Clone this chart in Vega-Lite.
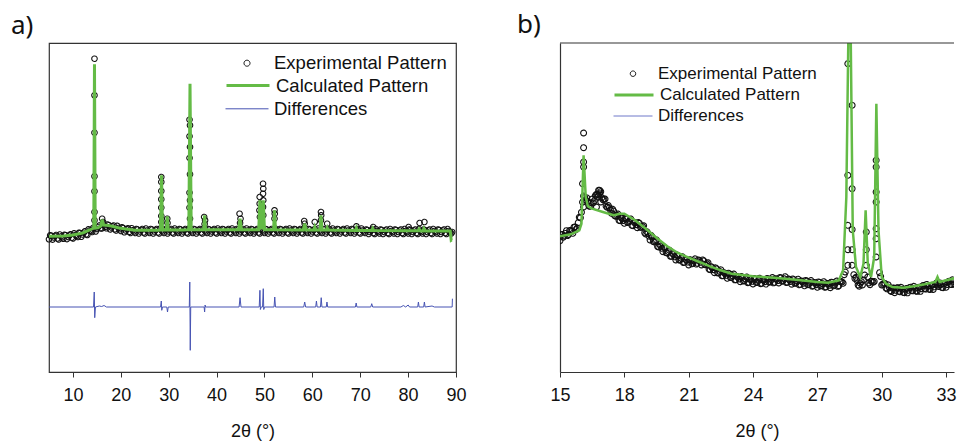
{
"$schema": "https://vega.github.io/schema/vega-lite/v6.json",
"padding": {"left": 10, "top": 12, "right": 0, "bottom": 0},
"spacing": 104,
"bounds": "flush",
"config": {"view": {"stroke": null}, "axis": {"grid": false, "labelOverlap": false}, "font": "Liberation Sans"},
"resolve": {"scale": {"color": "independent", "stroke": "independent", "strokeDash": "independent"}, "legend": {"color": "independent", "stroke": "independent", "strokeDash": "independent"}},
"datasets": {
"a_exp": [
{"x":5,"y":132.7},{"x":5.5,"y":136.3},{"x":6,"y":134.5},{"x":6.5,"y":137},{"x":7,"y":132.5},{"x":7.5,"y":135.6},{"x":8,"y":133.2},{"x":8.5,"y":136.8},{"x":9,"y":135},{"x":9.5,"y":137.7},{"x":10,"y":133.5},{"x":10.5,"y":137},{"x":11,"y":135},{"x":11.5,"y":139},{"x":12,"y":137.5},{"x":12.5,"y":140.7},{"x":13,"y":137},{"x":13.5,"y":141.5},{"x":14,"y":140},{"x":14.5,"y":144},{"x":15,"y":143},{"x":15.5,"y":146.5},{"x":16,"y":143.5},{"x":16.5,"y":146.5},{"x":17,"y":143.7},{"x":17.5,"y":146.8},{"x":18,"y":144.5},{"x":18.5,"y":146.5},{"x":19,"y":141.5},{"x":19.5,"y":144},{"x":20,"y":141},{"x":20.5,"y":144},{"x":21,"y":141.5},{"x":21.5,"y":143.7},{"x":22,"y":139},{"x":22.5,"y":141.7},{"x":23,"y":139},
{"x":23.5,"y":142.5},{"x":24,"y":140.5},{"x":24.5,"y":143},{"x":25,"y":138.5},{"x":25.5,"y":141.5},{"x":26,"y":139},
{"x":26.5,"y":142.5},{"x":27,"y":140.5},{"x":27.5,"y":143},{"x":28,"y":138.5},{"x":28.5,"y":141.5},{"x":29,"y":139},
{"x":29.5,"y":142.5},{"x":30,"y":140.5},{"x":30.5,"y":143},{"x":31,"y":138.5},{"x":31.5,"y":141.5},{"x":32,"y":139},
{"x":32.5,"y":142.5},{"x":33,"y":140.5},{"x":33.5,"y":143},{"x":34,"y":138.5},{"x":34.5,"y":141.5},{"x":35,"y":139},
{"x":35.5,"y":142.5},{"x":36,"y":140.5},{"x":36.5,"y":143},{"x":37,"y":138.5},{"x":37.5,"y":141.5},{"x":38,"y":139},
{"x":38.5,"y":142.5},{"x":39,"y":140.5},{"x":39.5,"y":143},{"x":40,"y":138.5},{"x":40.5,"y":141.5},{"x":41,"y":139},
{"x":41.5,"y":142.5},{"x":42,"y":140.5},{"x":42.5,"y":143},{"x":43,"y":138.5},{"x":43.5,"y":141.5},{"x":44,"y":139},
{"x":44.5,"y":142.5},{"x":45,"y":140.5},{"x":45.5,"y":143},{"x":46,"y":138.5},{"x":46.5,"y":141.5},{"x":47,"y":139},
{"x":47.5,"y":142.5},{"x":48,"y":140.5},{"x":48.5,"y":143},{"x":49,"y":138.5},{"x":49.5,"y":141.5},{"x":50,"y":139},
{"x":50.5,"y":142.5},{"x":51,"y":140.5},{"x":51.5,"y":143},{"x":52,"y":138.5},{"x":52.5,"y":141.5},{"x":53,"y":139},
{"x":53.5,"y":142.5},{"x":54,"y":140.5},{"x":54.5,"y":143},{"x":55,"y":138.5},{"x":55.5,"y":141.5},{"x":56,"y":139},
{"x":56.5,"y":142.5},{"x":57,"y":140.5},{"x":57.5,"y":143},{"x":58,"y":138.5},{"x":58.5,"y":141.5},{"x":59,"y":139},
{"x":59.5,"y":142.5},{"x":60,"y":140.5},{"x":60.5,"y":143},{"x":61,"y":138.5},{"x":61.5,"y":141.5},{"x":62,"y":139},
{"x":62.5,"y":142.5},{"x":63,"y":140.5},{"x":63.5,"y":143},{"x":64,"y":138.5},{"x":64.5,"y":141.5},{"x":65,"y":139},
{"x":65.5,"y":142.5},{"x":66,"y":140.5},{"x":66.5,"y":143},{"x":67,"y":138.5},{"x":67.5,"y":141.5},{"x":68,"y":139},
{"x":68.5,"y":142.5},{"x":69,"y":140.5},{"x":69.5,"y":143},{"x":70,"y":138.5},{"x":70.5,"y":141.5},{"x":71,"y":139},
{"x":71.5,"y":142},{"x":72,"y":140},{"x":72.5,"y":142.5},{"x":73,"y":138},{"x":73.5,"y":141},{"x":74,"y":138.5},
{"x":74.5,"y":142},{"x":75,"y":140},{"x":75.5,"y":142.5},{"x":76,"y":138},{"x":76.5,"y":141},{"x":77,"y":138.5},
{"x":77.5,"y":142},{"x":78,"y":140},{"x":78.5,"y":142.5},{"x":79,"y":138},{"x":79.5,"y":141},{"x":80,"y":138.5},
{"x":80.5,"y":142},{"x":81,"y":140},{"x":81.5,"y":142.5},{"x":82,"y":138},{"x":82.5,"y":141},{"x":83,"y":138.5},
{"x":83.5,"y":142},{"x":84,"y":140},{"x":84.5,"y":142.5},{"x":85,"y":138},{"x":85.5,"y":141},{"x":86,"y":138.5},
{"x":86.5,"y":142},{"x":87,"y":140},{"x":87.5,"y":142.5},{"x":88,"y":138},{"x":88.5,"y":141},{"x":89,"y":138.5},
{"x":5.25,"y":136.7},{"x":5.75,"y":132.4},{"x":6.25,"y":136},{"x":6.75,"y":133.5},{"x":7.25,"y":137.5},{"x":7.75,"y":134.6},{"x":8.25,"y":137.2},{"x":8.75,"y":132.9},{"x":9.25,"y":136.6},{"x":9.75,"y":134.3},{"x":10.25,"y":138.7},{"x":10.75,"y":136.2},{"x":11.25,"y":139.2},{"x":11.75,"y":135.2},{"x":12.25,"y":139.3},{"x":12.75,"y":137.6},{"x":13.25,"y":142.7},{"x":13.75,"y":141},{"x":14.25,"y":144.3},{"x":14.75,"y":140.5},{"x":15.25,"y":145},{"x":15.75,"y":143.7},{"x":16.25,"y":148.5},{"x":16.75,"y":145.3},{"x":17.25,"y":147.5},{"x":17.75,"y":142.6},{"x":18.25,"y":145.7},{"x":18.75,"y":142.7},{"x":19.25,"y":146.2},{"x":19.75,"y":142.7},{"x":20.25,"y":144.7},{"x":20.75,"y":139.7},{"x":21.25,"y":142.8},{"x":21.75,"y":140.1},{"x":22.25,"y":143.8},{"x":22.75,"y":140.6},
{"x":23.25,"y":143},{"x":23.75,"y":138.5},{"x":24.25,"y":142},{"x":24.75,"y":139.5},{"x":25.25,"y":143.5},{"x":25.75,"y":140.5},
{"x":26.25,"y":143},{"x":26.75,"y":138.5},{"x":27.25,"y":142},{"x":27.75,"y":139.5},{"x":28.25,"y":143.5},{"x":28.75,"y":140.5},
{"x":29.25,"y":143},{"x":29.75,"y":138.5},{"x":30.25,"y":142},{"x":30.75,"y":139.5},{"x":31.25,"y":143.5},{"x":31.75,"y":140.5},
{"x":32.25,"y":143},{"x":32.75,"y":138.5},{"x":33.25,"y":142},{"x":33.75,"y":139.5},{"x":34.25,"y":143.5},{"x":34.75,"y":140.5},
{"x":35.25,"y":143},{"x":35.75,"y":138.5},{"x":36.25,"y":142},{"x":36.75,"y":139.5},{"x":37.25,"y":143.5},{"x":37.75,"y":140.5},
{"x":38.25,"y":143},{"x":38.75,"y":138.5},{"x":39.25,"y":142},{"x":39.75,"y":139.5},{"x":40.25,"y":143.5},{"x":40.75,"y":140.5},
{"x":41.25,"y":143},{"x":41.75,"y":138.5},{"x":42.25,"y":142},{"x":42.75,"y":139.5},{"x":43.25,"y":143.5},{"x":43.75,"y":140.5},
{"x":44.25,"y":143},{"x":44.75,"y":138.5},{"x":45.25,"y":142},{"x":45.75,"y":139.5},{"x":46.25,"y":143.5},{"x":46.75,"y":140.5},
{"x":47.25,"y":143},{"x":47.75,"y":138.5},{"x":48.25,"y":142},{"x":48.75,"y":139.5},{"x":49.25,"y":143.5},{"x":49.75,"y":140.5},
{"x":50.25,"y":143},{"x":50.75,"y":138.5},{"x":51.25,"y":142},{"x":51.75,"y":139.5},{"x":52.25,"y":143.5},{"x":52.75,"y":140.5},
{"x":53.25,"y":143},{"x":53.75,"y":138.5},{"x":54.25,"y":142},{"x":54.75,"y":139.5},{"x":55.25,"y":143.5},{"x":55.75,"y":140.5},
{"x":56.25,"y":143},{"x":56.75,"y":138.5},{"x":57.25,"y":142},{"x":57.75,"y":139.5},{"x":58.25,"y":143.5},{"x":58.75,"y":140.5},
{"x":59.25,"y":143},{"x":59.75,"y":138.5},{"x":60.25,"y":142},{"x":60.75,"y":139.5},{"x":61.25,"y":143.5},{"x":61.75,"y":140.5},
{"x":62.25,"y":143},{"x":62.75,"y":138.5},{"x":63.25,"y":142},{"x":63.75,"y":139.5},{"x":64.25,"y":143.5},{"x":64.75,"y":140.5},
{"x":65.25,"y":143},{"x":65.75,"y":138.5},{"x":66.25,"y":142},{"x":66.75,"y":139.5},{"x":67.25,"y":143.5},{"x":67.75,"y":140.5},
{"x":68.25,"y":143},{"x":68.75,"y":138.5},{"x":69.25,"y":142},{"x":69.75,"y":139.5},{"x":70.25,"y":143.5},{"x":70.75,"y":140.5},
{"x":71.25,"y":142.5},{"x":71.75,"y":138},{"x":72.25,"y":141.5},{"x":72.75,"y":139},{"x":73.25,"y":143},{"x":73.75,"y":140},
{"x":74.25,"y":142.5},{"x":74.75,"y":138},{"x":75.25,"y":141.5},{"x":75.75,"y":139},{"x":76.25,"y":143},{"x":76.75,"y":140},
{"x":77.25,"y":142.5},{"x":77.75,"y":138},{"x":78.25,"y":141.5},{"x":78.75,"y":139},{"x":79.25,"y":143},{"x":79.75,"y":140},
{"x":80.25,"y":142.5},{"x":80.75,"y":138},{"x":81.25,"y":141.5},{"x":81.75,"y":139},{"x":82.25,"y":143},{"x":82.75,"y":140},
{"x":83.25,"y":142.5},{"x":83.75,"y":138},{"x":84.25,"y":141.5},{"x":84.75,"y":139},{"x":85.25,"y":143},{"x":85.75,"y":140},
{"x":86.25,"y":142.5},{"x":86.75,"y":138},{"x":87.25,"y":141.5},{"x":87.75,"y":139},{"x":88.25,"y":143},{"x":88.75,"y":140},
{"x":14.5,"y":313.3},{"x":14.5,"y":276.7},{"x":14.5,"y":239.3},{"x":14.5,"y":195.7},{"x":14.5,"y":180.7},{"x":14.5,"y":160},{"x":14.5,"y":151.7},
{"x":16.1,"y":153.3},{"x":16.3,"y":150},
{"x":28.45,"y":195},{"x":28.45,"y":190},{"x":28.45,"y":181},{"x":28.45,"y":172.7},{"x":28.45,"y":164.3},{"x":28.45,"y":156},{"x":28.45,"y":150},
{"x":29.7,"y":153.3},{"x":29.75,"y":149},
{"x":34.35,"y":252.3},{"x":34.45,"y":246.7},{"x":34.35,"y":235.7},{"x":34.45,"y":225},{"x":34.35,"y":214},{"x":34.45,"y":197.7},{"x":34.35,"y":179.3},{"x":34.45,"y":171.7},{"x":34.35,"y":164.3},{"x":34.45,"y":153.3},
{"x":37.4,"y":155},{"x":37.6,"y":151.7},{"x":37.5,"y":148},
{"x":44.8,"y":158.3},{"x":45,"y":153.3},{"x":44.9,"y":149},
{"x":49,"y":175},{"x":49,"y":168.3},{"x":48.95,"y":161.7},{"x":49.05,"y":155},
{"x":49.7,"y":188.3},{"x":49.75,"y":183.3},{"x":49.7,"y":178.3},{"x":49.75,"y":171.7},{"x":49.7,"y":165},{"x":49.75,"y":156.7},
{"x":52.1,"y":161.7},{"x":52.15,"y":158.3},{"x":52.1,"y":153.3},
{"x":58.3,"y":151},{"x":58.4,"y":148.3},{"x":60.5,"y":150},
{"x":61.8,"y":160},{"x":61.85,"y":156.7},{"x":61.8,"y":151.7},{"x":63.1,"y":148.3},
{"x":69.2,"y":145.7},{"x":72.7,"y":145},{"x":80.1,"y":145},{"x":82.4,"y":149},{"x":83.4,"y":150},{"x":89.2,"y":140}
],
"a_calc": [
{"x":5,"y":135.7},{"x":8,"y":136},{"x":10,"y":137},{"x":12,"y":139},{"x":13.5,"y":142},{"x":14.35,"y":144},{"x":14.5,"y":307.7},{"x":14.65,"y":144},{"x":15.2,"y":144.3},{"x":15.8,"y":146},{"x":16.1,"y":152.3},{"x":16.4,"y":147},{"x":17,"y":146.7},{"x":18,"y":146},{"x":19.4,"y":144.3},{"x":21,"y":143},{"x":23,"y":141.7},{"x":27.8,"y":141.7},{"x":28.3,"y":142},{"x":28.5,"y":196.7},{"x":28.7,"y":142},{"x":29.5,"y":142},{"x":29.7,"y":155.7},{"x":29.9,"y":142},{"x":33,"y":142},{"x":34.2,"y":142.3},{"x":34.45,"y":288.3},{"x":34.7,"y":142.3},{"x":37.3,"y":142.3},{"x":37.5,"y":156.7},{"x":37.7,"y":142.3},{"x":44.6,"y":142.3},{"x":44.9,"y":153.3},{"x":45.2,"y":142.3},{"x":48.8,"y":142.3},{"x":49.05,"y":171.7},{"x":49.3,"y":144},{"x":49.5,"y":144},{"x":49.75,"y":171.7},{"x":50,"y":142.3},{"x":51.9,"y":142.3},{"x":52.1,"y":161.7},{"x":52.3,"y":142.3},{"x":58.1,"y":142},{"x":58.4,"y":148.3},{"x":58.7,"y":142},{"x":60.3,"y":142},{"x":60.5,"y":145},{"x":60.7,"y":142},{"x":61.6,"y":142},{"x":61.8,"y":156.7},{"x":62,"y":142},{"x":62.9,"y":142},{"x":63.1,"y":144.3},{"x":63.3,"y":142},{"x":69,"y":141.5},{"x":69.2,"y":144},{"x":69.4,"y":141.5},{"x":72.4,"y":141.5},{"x":72.6,"y":143.5},{"x":72.8,"y":141.5},{"x":80,"y":141.3},{"x":82.1,"y":141.3},{"x":82.3,"y":143},{"x":82.6,"y":141},{"x":83.1,"y":141},{"x":83.3,"y":143.5},{"x":83.6,"y":141},{"x":88.8,"y":141},{"x":89,"y":131.7},{"x":89.1,"y":132}
],
"a_diff": [
{"x":5,"y":65},{"x":14.3,"y":65},{"x":14.45,"y":80},{"x":14.55,"y":54.3},{"x":14.7,"y":65},{"x":15.5,"y":66},{"x":16,"y":65.5},{"x":16.5,"y":66.5},{"x":17,"y":65},{"x":28.3,"y":65},{"x":28.45,"y":71},{"x":28.55,"y":61.7},{"x":28.7,"y":65},{"x":29.6,"y":65},{"x":29.75,"y":60},{"x":29.9,"y":65},{"x":34.3,"y":65},{"x":34.4,"y":90},{"x":34.5,"y":21.7},{"x":34.6,"y":65},{"x":37.4,"y":65},{"x":37.5,"y":60},{"x":37.6,"y":67},{"x":37.7,"y":65},{"x":44.7,"y":65},{"x":44.9,"y":74.3},{"x":45.1,"y":65},{"x":48.9,"y":65},{"x":49.05,"y":81.7},{"x":49.15,"y":62.5},{"x":49.3,"y":65},{"x":49.6,"y":65},{"x":49.75,"y":83.3},{"x":49.85,"y":62.5},{"x":50,"y":65},{"x":52,"y":65},{"x":52.15,"y":75},{"x":52.3,"y":65},{"x":58.2,"y":65},{"x":58.4,"y":70},{"x":58.6,"y":65},{"x":60.7,"y":65},{"x":60.85,"y":71},{"x":61,"y":65},{"x":61.7,"y":65},{"x":61.85,"y":74.3},{"x":62,"y":65},{"x":62.9,"y":65},{"x":63.05,"y":70},{"x":63.2,"y":65},{"x":69,"y":65},{"x":69.15,"y":69},{"x":69.3,"y":65},{"x":72.2,"y":65},{"x":72.4,"y":68.3},{"x":72.6,"y":65},{"x":78.5,"y":65},{"x":79,"y":66.5},{"x":79.5,"y":65},{"x":80,"y":67},{"x":80.3,"y":65},{"x":82,"y":65},{"x":82.15,"y":70},{"x":82.3,"y":65},{"x":83.25,"y":65},{"x":83.4,"y":70},{"x":83.55,"y":65},{"x":85,"y":66},{"x":85.5,"y":65},{"x":89.2,"y":65},{"x":89.25,"y":73.3}
],
"b_exp": [
{"x":15,"y":131.3},{"x":15.1,"y":137.5},{"x":15.2,"y":136},{"x":15.3,"y":141.3},{"x":15.4,"y":137.5},{"x":15.5,"y":141.5},{"x":15.6,"y":138.7},{"x":15.7,"y":145},{"x":15.8,"y":144},{"x":15.9,"y":154.7},{"x":16,"y":159.7},{"x":16.1,"y":176},{"x":16.2,"y":172},{"x":16.3,"y":170.3},{"x":16.4,"y":165.7},{"x":16.5,"y":173},{"x":16.6,"y":171.3},{"x":16.7,"y":177.7},{"x":16.8,"y":177},{"x":16.9,"y":180.3},{"x":17,"y":172.3},{"x":17.1,"y":173},{"x":17.2,"y":164.7},{"x":17.3,"y":164.3},{"x":17.4,"y":158.7},{"x":17.5,"y":161},{"x":17.6,"y":155.7},{"x":17.7,"y":158},{"x":17.8,"y":151.3},{"x":17.9,"y":153.3},{"x":18,"y":148.7},{"x":18.1,"y":153},{"x":18.2,"y":150},{"x":18.3,"y":153},{"x":18.4,"y":146.3},{"x":18.5,"y":149.3},{"x":18.6,"y":144.3},{"x":18.7,"y":148.7},{"x":18.8,"y":144.7},{"x":18.9,"y":146.3},{"x":19,"y":138},{"x":19.1,"y":138.7},{"x":19.2,"y":132},{"x":19.3,"y":135},{"x":19.4,"y":130},{"x":19.5,"y":132},{"x":19.6,"y":125},{"x":19.7,"y":126},{"x":19.8,"y":120.3},{"x":19.9,"y":123.7},
{"x":20,"y":119},{"x":20.1,"y":121.8},{"x":20.2,"y":115.7},{"x":20.3,"y":117.3},{"x":20.4,"y":112},{"x":20.5,"y":116},{"x":20.6,"y":112},{"x":20.7,"y":115.3},{"x":20.8,"y":109.7},{"x":20.9,"y":111.8},{"x":21,"y":107},{"x":21.1,"y":111.8},{"x":21.2,"y":108.7},{"x":21.3,"y":113.2},{"x":21.4,"y":108.7},{"x":21.5,"y":111.3},{"x":21.6,"y":107},{"x":21.7,"y":111.2},{"x":21.8,"y":107.3},{"x":21.9,"y":109.3},{"x":22,"y":102.3},{"x":22.1,"y":104.3},{"x":22.2,"y":99.3},{"x":22.3,"y":103.2},{"x":22.4,"y":99},{"x":22.5,"y":102.2},{"x":22.6,"y":96.3},{"x":22.7,"y":98.5},{"x":22.8,"y":93.7},{"x":22.9,"y":98.2},{"x":23,"y":94.7},{"x":23.1,"y":98},{"x":23.2,"y":92.3},{"x":23.3,"y":94.8},{"x":23.4,"y":90.3},{"x":23.5,"y":94.8},{"x":23.6,"y":91.3},{"x":23.7,"y":95},{"x":23.8,"y":89.7},{"x":23.9,"y":92.3},
{"x":24,"y":88},{"x":24.1,"y":93},{"x":24.2,"y":89.8},{"x":24.3,"y":93.8},{"x":24.4,"y":88.7},{"x":24.5,"y":91.7},{"x":24.6,"y":87.9},{"x":24.7,"y":93.1},{"x":24.8,"y":90.3},{"x":24.9,"y":94.5},{"x":25,"y":89.7},{"x":25.1,"y":92.8},{"x":25.2,"y":89},{"x":25.3,"y":94.1},{"x":25.4,"y":91.2},{"x":25.5,"y":95.3},{"x":25.6,"y":89.8},{"x":25.7,"y":92.3},{"x":25.8,"y":87.8},{"x":25.9,"y":92.4},{"x":26,"y":89},{"x":26.1,"y":92.8},{"x":26.2,"y":87.6},{"x":26.3,"y":90.4},{"x":26.4,"y":86.2},{"x":26.5,"y":91},{"x":26.6,"y":87.7},{"x":26.7,"y":91.5},{"x":26.8,"y":86.2},{"x":26.9,"y":89},{"x":27,"y":84.7},{"x":27.1,"y":89.6},{"x":27.2,"y":86.4},{"x":27.3,"y":90.3},{"x":27.4,"y":85.1},{"x":27.5,"y":88},{"x":27.6,"y":84.3},{"x":27.7,"y":89.6},{"x":27.8,"y":86.8},{"x":27.9,"y":91},
{"x":28,"y":86.3},{"x":28.1,"y":90.5},{"x":28.2,"y":88.7},{"x":28.3,"y":100},{"x":28.7,"y":97.3},{"x":28.8,"y":94.7},{"x":28.9,"y":87},{"x":29,"y":88.7},{"x":29.1,"y":87},{"x":29.2,"y":97},{"x":29.4,"y":89},{"x":29.5,"y":90.7},{"x":29.6,"y":89.7},{"x":29.9,"y":99.3},
{"x":30,"y":87},{"x":30.1,"y":88.7},{"x":30.2,"y":84},{"x":30.3,"y":87.2},{"x":30.4,"y":81.3},{"x":30.5,"y":83.8},{"x":30.6,"y":79.3},{"x":30.7,"y":84},{"x":30.8,"y":80.7},{"x":30.9,"y":84.7},{"x":31,"y":79.7},{"x":31.1,"y":82.8},{"x":31.2,"y":79.1},{"x":31.3,"y":84.3},{"x":31.4,"y":81.5},{"x":31.5,"y":85.7},{"x":31.6,"y":81},{"x":31.7,"y":84.3},{"x":31.8,"y":80.6},{"x":31.9,"y":86},{"x":32,"y":83.3},{"x":32.1,"y":87.6},{"x":32.2,"y":82.9},{"x":32.3,"y":86.2},{"x":32.4,"y":82.5},{"x":32.5,"y":87.7},{"x":32.6,"y":87},{"x":32.7,"y":89.2},{"x":32.8,"y":84.6},{"x":32.9,"y":88.1},{"x":33,"y":84.7},{"x":33.1,"y":90.2},{"x":33.2,"y":87.7},{"x":33.3,"y":92.2},{"x":33.4,"y":87.6},{"x":33.5,"y":91},
{"x":15.05,"y":137.4},{"x":15.15,"y":134.7},{"x":15.25,"y":138.6},{"x":15.35,"y":136.4},{"x":15.45,"y":141.5},{"x":15.55,"y":140.6},{"x":15.65,"y":144.8},{"x":15.75,"y":142.5},{"x":15.85,"y":149.3},{"x":15.95,"y":154.2},{"x":16.05,"y":169.8},{"x":16.15,"y":174.5},{"x":16.25,"y":174.2},{"x":16.35,"y":166},{"x":16.45,"y":169.3},{"x":16.55,"y":169.2},{"x":16.65,"y":176.5},{"x":16.75,"y":177.8},{"x":16.85,"y":181.7},{"x":16.95,"y":174.3},{"x":17.05,"y":172.7},{"x":17.15,"y":165.8},{"x":17.25,"y":166.5},{"x":17.35,"y":162},{"x":17.45,"y":162.8},{"x":17.55,"y":156.3},{"x":17.65,"y":156.8},{"x":17.75,"y":151.7},{"x":17.85,"y":154.3},{"x":17.95,"y":151.5},
{"x":18.05,"y":153.8},{"x":18.15,"y":149.5},{"x":18.25,"y":151.5},{"x":18.35,"y":146.7},{"x":18.45,"y":149.8},{"x":18.55,"y":147.3},{"x":18.65,"y":149.5},{"x":18.75,"y":144.7},{"x":18.85,"y":145.5},{"x":18.95,"y":139.2},{"x":19.05,"y":140.3},{"x":19.15,"y":135.8},{"x":19.25,"y":136.5},{"x":19.35,"y":130.5},{"x":19.45,"y":131},{"x":19.55,"y":125.5},{"x":19.65,"y":127.5},{"x":19.75,"y":123.7},{"x":19.85,"y":125},{"x":19.95,"y":119.3},
{"x":20.05,"y":120.4},{"x":20.15,"y":115.7},{"x":20.25,"y":118.5},{"x":20.35,"y":115.2},{"x":20.45,"y":117},{"x":20.55,"y":112},{"x":20.65,"y":113.7},{"x":20.75,"y":109.5},{"x":20.85,"y":112.7},{"x":20.95,"y":109.9},{"x":21.05,"y":112.4},{"x":21.15,"y":108.2},{"x":21.25,"y":111},{"x":21.35,"y":107.9},{"x":21.45,"y":112},{"x":21.55,"y":109.7},{"x":21.65,"y":112.1},{"x":21.75,"y":107.3},{"x":21.85,"y":108.3},{"x":21.95,"y":102.8},
{"x":22.05,"y":105.3},{"x":22.15,"y":102.3},{"x":22.25,"y":104.2},{"x":22.35,"y":99.1},{"x":22.45,"y":100.6},{"x":22.55,"y":96.2},{"x":22.65,"y":99.4},{"x":22.75,"y":96.6},{"x":22.85,"y":98.9},{"x":22.95,"y":94.4},{"x":23.05,"y":96.3},{"x":23.15,"y":92.1},{"x":23.25,"y":95.5},{"x":23.35,"y":93},{"x":23.45,"y":95.5},{"x":23.55,"y":91},{"x":23.65,"y":93.1},{"x":23.75,"y":89.3},{"x":23.85,"y":93},{"x":23.95,"y":90.6},
{"x":24.05,"y":93.5},{"x":24.15,"y":89.4},{"x":24.25,"y":91.8},{"x":24.35,"y":88.3},{"x":24.45,"y":92.2},{"x":24.55,"y":90.3},{"x":24.65,"y":93.5},{"x":24.75,"y":89.7},{"x":24.85,"y":92.4},{"x":24.95,"y":89.1},{"x":25.05,"y":93.3},{"x":25.15,"y":91.4},{"x":25.25,"y":94.5},{"x":25.35,"y":90.7},{"x":25.45,"y":93.3},{"x":25.55,"y":89.5},{"x":25.65,"y":93},{"x":25.75,"y":90.5},{"x":25.85,"y":93.1},{"x":25.95,"y":88.7},
{"x":26.05,"y":90.9},{"x":26.15,"y":87.2},{"x":26.25,"y":91},{"x":26.35,"y":88.8},{"x":26.45,"y":91.6},{"x":26.55,"y":87.3},{"x":26.65,"y":89.6},{"x":26.75,"y":85.8},{"x":26.85,"y":89.6},{"x":26.95,"y":87.3},{"x":27.05,"y":90.1},{"x":27.15,"y":86},{"x":27.25,"y":88.3},{"x":27.35,"y":84.7},{"x":27.45,"y":88.5},{"x":27.55,"y":86.6},{"x":27.65,"y":89.9},{"x":27.75,"y":86.2},{"x":27.85,"y":88.9},{"x":27.95,"y":85.6},
{"x":28.05,"y":90.4},{"x":28.15,"y":90.1},{"x":28.25,"y":97.3},{"x":28.75,"y":93.5},{"x":28.85,"y":91.3},{"x":28.95,"y":85.8},{"x":29.05,"y":90.3},{"x":29.15,"y":92},{"x":29.35,"y":95},{"x":29.45,"y":87.3},{"x":29.55,"y":90.7},{"x":29.65,"y":90.5},{"x":29.95,"y":95.5},
{"x":30.05,"y":87.8},{"x":30.15,"y":88.5},{"x":30.25,"y":83.1},{"x":30.35,"y":84.7},{"x":30.45,"y":80.5},{"x":30.55,"y":84},{"x":30.65,"y":81.7},{"x":30.75,"y":84.3},{"x":30.85,"y":80.2},{"x":30.95,"y":82.7},{"x":31.05,"y":79.3},{"x":31.15,"y":83.5},{"x":31.25,"y":81.7},{"x":31.35,"y":84.9},{"x":31.45,"y":81.1},{"x":31.55,"y":83.8},{"x":31.65,"y":80.6},{"x":31.75,"y":84.9},{"x":31.85,"y":83.3},{"x":31.95,"y":86.6},
{"x":32.05,"y":82.9},{"x":32.15,"y":85.7},{"x":32.25,"y":82.5},{"x":32.35,"y":86.8},{"x":32.45,"y":85.1},{"x":32.55,"y":89},{"x":32.65,"y":85.5},{"x":32.75,"y":87.4},{"x":32.85,"y":84.3},{"x":32.95,"y":88.9},{"x":33.05,"y":87.4},{"x":33.15,"y":90.9},{"x":33.25,"y":87.4},{"x":33.35,"y":90.4},
{"x":16.1,"y":239},{"x":16.1,"y":224.3},{"x":16.1,"y":210},{"x":16.1,"y":205},{"x":16.1,"y":165},{"x":16.05,"y":188.3},
{"x":16.8,"y":181.7},{"x":16.85,"y":178.3},{"x":16.75,"y":175},{"x":16.9,"y":170},{"x":16.7,"y":165},
{"x":28.42,"y":308.3},{"x":28.42,"y":196.7},{"x":28.42,"y":146.7},{"x":28.42,"y":122.3},{"x":28.42,"y":106.7},
{"x":28.62,"y":266.7},{"x":28.62,"y":183.3},{"x":28.62,"y":142.5},{"x":28.62,"y":122.3},{"x":28.62,"y":106.7},
{"x":29.28,"y":140},{"x":29.28,"y":122.3},{"x":29.28,"y":106.7},
{"x":29.74,"y":211.7},{"x":29.74,"y":205},{"x":29.74,"y":180},{"x":29.74,"y":170},{"x":29.74,"y":143.3},{"x":29.74,"y":133.3},{"x":29.74,"y":115}
],
"b_calc": [
{"x":15,"y":135.7},{"x":15.5,"y":137.7},{"x":15.9,"y":141.7},{"x":16,"y":148.3},{"x":16.1,"y":216.7},{"x":16.2,"y":175},{"x":16.3,"y":165.7},{"x":16.5,"y":163.3},{"x":17,"y":160},{"x":17.5,"y":156.7},{"x":17.8,"y":158.3},{"x":18,"y":158.3},{"x":18.5,"y":151.7},{"x":19,"y":143.3},{"x":19.5,"y":134.3},{"x":20,"y":125.7},{"x":20.5,"y":119},{"x":21,"y":114.3},{"x":21.5,"y":110},{"x":22,"y":105.7},{"x":22.5,"y":101.7},{"x":23,"y":98.3},{"x":24,"y":95.7},{"x":25,"y":94.3},{"x":26,"y":92.3},{"x":27,"y":90},{"x":27.5,"y":89.3},{"x":28,"y":91.7},{"x":28.2,"y":101.7},{"x":28.35,"y":175},{"x":28.45,"y":345},{"x":28.55,"y":345},{"x":28.65,"y":141.7},{"x":28.8,"y":105},{"x":29,"y":95},{"x":29.15,"y":108.3},{"x":29.25,"y":161.7},{"x":29.35,"y":108.3},{"x":29.5,"y":95},{"x":29.65,"y":115},{"x":29.75,"y":268.3},{"x":29.85,"y":141.7},{"x":30,"y":95},{"x":30.2,"y":88.3},{"x":30.5,"y":85},{"x":31,"y":84.3},{"x":31.5,"y":85.7},{"x":32,"y":87.7},{"x":32.5,"y":90},{"x":32.6,"y":95},{"x":32.7,"y":90},{"x":33,"y":91.7},{"x":33.5,"y":94.3}
]
},
"hconcat": [
{
"width": 407, "height": 329,
"view": {"stroke": "#333333", "strokeWidth": 1.2},
"title": {"text": "a)", "anchor": "start", "frame": "group", "dx": -38, "offset": -17, "baseline": "alphabetic", "fontSize": 26, "font": "Noto Sans", "fontWeight": "normal", "color": "#111111"},
"layer": [
{
"data": {"name": "a_exp"},
"mark": {"type": "point", "shape": "circle", "filled": false, "size": 30, "strokeWidth": 1.1, "opacity": 1, "color": "#111111"},
"encoding": {
"x": {"field": "x", "type": "quantitative", "scale": {"domain": [5, 90], "nice": false, "zero": false},
 "axis": {"values": [10,20,30,40,50,60,70,80,90], "tickSize": 5, "title": "2θ (°)", "domain": false, "labelFontSize": 18, "labelFont": "Liberation Sans", "labelColor": "#111111", "labelPadding": 9, "labelOverlap": false, "labelFlush": false, "tickColor": "#333333", "titleFont": "Liberation Sans", "titleFontSize": 18, "titleFontWeight": "normal", "titleColor": "#111111", "titlePadding": 18}},
"y": {"field": "y", "type": "quantitative", "scale": {"domain": [0, 329], "nice": false, "zero": false}, "axis": null},
"strokeDash": {"datum": "Experimental Pattern", "type": "nominal", "scale": {"domain": ["Experimental Pattern"], "range": [[1, 0]]},
 "legend": {"title": null, "orient": "none", "legendX": 176, "legendY": 10.2, "padding": 0, "symbolType": "M-0.14,0A0.14,0.14 0 1,0 0.14,0A0.14,0.14 0 1,0 -0.14,0Z", "symbolSize": 1849, "symbolStrokeWidth": 1, "symbolStrokeColor": "#111111", "symbolFillColor": "transparent", "clipHeight": 20, "labelOffset": 5, "labelLimit": 400, "labelFont": "Liberation Sans", "labelFontSize": 18.5, "labelColor": "#111111"}}
}
},
{
"data": {"name": "a_calc"},
"mark": {"type": "line", "strokeWidth": 3, "clip": true},
"encoding": {
"x": {"field": "x", "type": "quantitative"},
"y": {"field": "y", "type": "quantitative"},
"color": {"datum": "Calculated Pattern", "type": "nominal", "scale": {"domain": ["Calculated Pattern"], "range": ["#64bb46"]},
 "legend": {"title": null, "orient": "none", "legendX": 176, "legendY": 32.5, "padding": 0, "symbolType": "stroke", "symbolSize": 1849, "symbolStrokeWidth": 3, "clipHeight": 20, "labelOffset": 5, "labelLimit": 400, "labelFont": "Liberation Sans", "labelFontSize": 18.5, "labelColor": "#111111"}}
}
},
{
"data": {"name": "a_diff"},
"mark": {"type": "line", "strokeWidth": 1, "clip": true},
"encoding": {
"x": {"field": "x", "type": "quantitative"},
"y": {"field": "y", "type": "quantitative"},
"stroke": {"datum": "Differences", "type": "nominal", "scale": {"domain": ["Differences"], "range": ["#4653b3"]},
 "legend": {"title": null, "orient": "none", "legendX": 176, "legendY": 55.8, "padding": 0, "symbolType": "stroke", "symbolSize": 1849, "symbolStrokeWidth": 1, "clipHeight": 20, "labelOffset": 5, "labelLimit": 400, "labelFont": "Liberation Sans", "labelFontSize": 18.5, "labelColor": "#111111"}}
}
}
]
},
{
"width": 394, "height": 329,
"title": {"text": "b)", "anchor": "start", "frame": "group", "dx": -43, "offset": -17, "baseline": "alphabetic", "fontSize": 26, "font": "Noto Sans", "fontWeight": "normal", "color": "#111111"},
"layer": [
{
"data": {"name": "b_exp"},
"mark": {"type": "point", "shape": "circle", "filled": false, "size": 34, "strokeWidth": 1.1, "opacity": 1, "clip": true, "color": "#111111"},
"encoding": {
"x": {"field": "x", "type": "quantitative", "scale": {"domain": [15, 33.37], "nice": false, "zero": false},
 "axis": {"values": [15,16.5,18,19.5,21,22.5,24,25.5,27,28.5,30,31.5,33], "labelExpr": "datum.value % 3 == 0 ? format(datum.value, 'd') : ''", "tickSize": {"condition": {"test": "datum.value % 3 === 0", "value": 5}, "value": 3}, "title": "2θ (°)", "domain": true, "domainColor": "#333333", "domainWidth": 1.2, "labelFontSize": 18, "labelFont": "Liberation Sans", "labelColor": "#111111", "labelPadding": 9, "labelOverlap": false, "labelFlush": false, "tickColor": "#333333", "titleFont": "Liberation Sans", "titleFontSize": 18, "titleFontWeight": "normal", "titleColor": "#111111", "titlePadding": 18}},
"y": {"field": "y", "type": "quantitative", "scale": {"domain": [0, 329], "nice": false, "zero": false},
 "axis": {"labels": false, "ticks": false, "title": null, "domain": true, "domainColor": "#333333", "domainWidth": 1.2}},
"strokeDash": {"datum": "Experimental Pattern", "type": "nominal", "scale": {"domain": ["Experimental Pattern"], "range": [[1, 0]]},
 "legend": {"title": null, "orient": "none", "legendX": 53, "legendY": 21.2, "padding": 0, "symbolType": "M-0.14,0A0.14,0.14 0 1,0 0.14,0A0.14,0.14 0 1,0 -0.14,0Z", "symbolSize": 1521, "symbolStrokeWidth": 1, "symbolStrokeColor": "#111111", "symbolFillColor": "transparent", "clipHeight": 19, "labelOffset": 5, "labelLimit": 400, "labelFont": "Liberation Sans", "labelFontSize": 17, "labelColor": "#111111"}}
}
},
{
"data": {"name": "b_calc"},
"mark": {"type": "line", "strokeWidth": 2.5, "clip": true},
"encoding": {
"x": {"field": "x", "type": "quantitative"},
"y": {"field": "y", "type": "quantitative"},
"color": {"datum": "Calculated Pattern", "type": "nominal", "scale": {"domain": ["Calculated Pattern"], "range": ["#64bb46"]},
 "legend": {"title": null, "orient": "none", "legendX": 53, "legendY": 42.5, "padding": 0, "symbolType": "stroke", "symbolSize": 1521, "symbolStrokeWidth": 3, "clipHeight": 19, "labelOffset": 5, "labelLimit": 400, "labelFont": "Liberation Sans", "labelFontSize": 17, "labelColor": "#111111"}}
}
},
{
"data": {"values": []},
"mark": {"type": "line", "strokeWidth": 1, "clip": true},
"encoding": {
"x": {"field": "x", "type": "quantitative"},
"y": {"field": "y", "type": "quantitative"},
"stroke": {"datum": "Differences", "type": "nominal", "scale": {"domain": ["Differences"], "range": ["#6f79c9"]},
 "legend": {"title": null, "orient": "none", "legendX": 53, "legendY": 63.5, "padding": 0, "symbolType": "stroke", "symbolSize": 1521, "symbolStrokeWidth": 1, "clipHeight": 19, "labelOffset": 5, "labelLimit": 400, "labelFont": "Liberation Sans", "labelFontSize": 17, "labelColor": "#111111"}}
}
},
{
"data": {"values": [{}]},
"mark": {"type": "rule", "color": "#333333", "strokeWidth": 1.2},
"encoding": {"y": {"datum": 329, "type": "quantitative"}}
}
]
}
]
}
